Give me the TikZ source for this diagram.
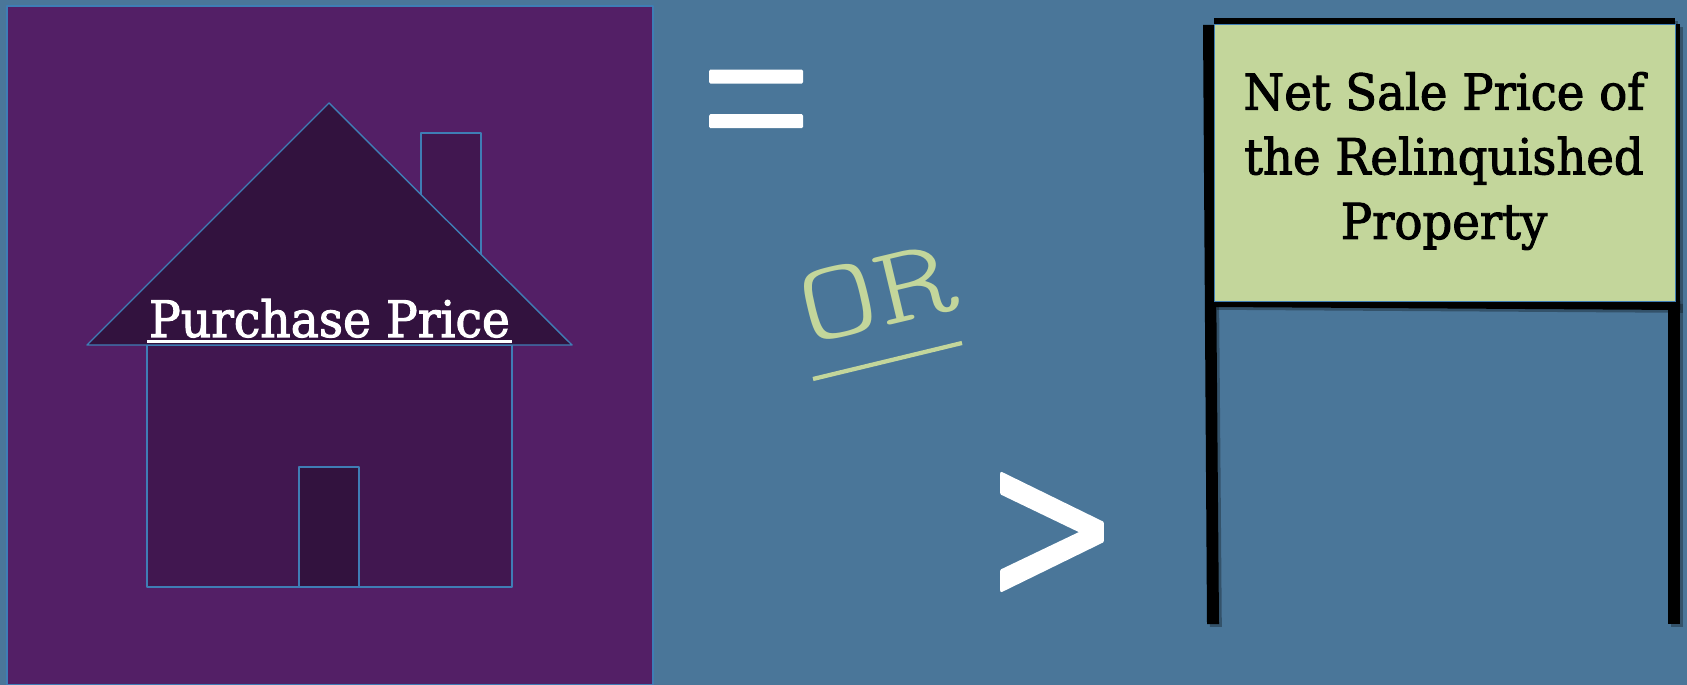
\documentclass[tikz,border=0pt]{standalone}
\usepackage{fontspec}
\setmainfont{DejaVu Serif}[FakeStretch=0.94,FakeBold=2]
\newfontfamily\symbfont{DejaVu Sans}[FakeBold=1.6]
\newfontfamily\equalfont{Liberation Serif}[FakeBold=1.3]
\newfontfamily\orfont{Latin Modern Mono Light}
\usepackage{xcolor}
\usetikzlibrary{shadows}
\definecolor{slideblue}{HTML}{4A7699}
\definecolor{housepurple}{HTML}{531F66}
\definecolor{roofpurple}{HTML}{32123E}
\definecolor{bodypurple}{HTML}{411750}
\definecolor{edgeblue}{HTML}{3F7DB5}
\definecolor{signgreen}{HTML}{C3D69B}

\begin{document}
\begin{tikzpicture}[
  x=0.02cm, y=-0.02cm,
  house/.style={draw=edgeblue, line width=0.8pt, line join=round},
  post/.style={fill=black, drop shadow={shadow xshift=1.6pt, shadow yshift=-1.6pt,
               opacity=0.3, fill=black}},
  pricetext/.style={font=\fontsize{28.6}{29}\selectfont, text=white, inner sep=0pt},
  signtext/.style={font=\fontsize{28.2}{36.8}\selectfont, text=black, align=center,
                   inner sep=0pt},
  sumtext/.style={text=white, inner sep=0pt}
]

\useasboundingbox (0,0) rectangle (1687,685);
\fill[slideblue] (0,0) rectangle (1687,685);

% House
\draw[house, fill=housepurple] (7,6) rectangle (653,685);
\draw[house, fill=bodypurple] (421,195) -- (421,133) -- (481,133) -- (481,254);
\draw[house, fill=bodypurple] (147,345) rectangle (512,587);
\draw[house, fill=roofpurple] (299,467) rectangle (359,587);
\draw[house, fill=roofpurple] (329,103) -- (87,345) -- (572,345) -- cycle;

\node[pricetext, anchor=base] (price) at (329.5,337) {Purchase Price};
\draw[white, line width=1.5pt] (147,341.5) -- (512,341.5);

% Signs between
\node[sumtext, font=\equalfont\fontsize{127}{127}\selectfont, xscale=0.88] (equal) at (756,122)
      {\special{pdf:code 1 j}=};
\node[sumtext, font=\symbfont\fontsize{92}{92}\selectfont, yscale=1.35] (greater) at (1052,537)
      {\special{pdf:code 1 j}>};

\node[font=\orfont\fontsize{64}{64}\selectfont, text=signgreen, rotate=13.4, xscale=1.35, inner sep=0pt]
      (ortext) at (877,293) {OR};
\draw[signgreen, line width=2.4pt] (813,379) -- (962,343);

% Sign posts
\fill[post] (1203,25) -- (1214,25) -- (1219,624) -- (1207,624) -- cycle;
\fill[post] (1668,24) -- (1680,24) -- (1680,624) -- (1668,624) -- cycle;
\fill[post] (1214,18) rectangle (1675,24);
\fill[post] (1214,301) -- (1680,301) -- (1680,310) -- (1214,307) -- cycle;

% Sign board
\node[draw=edgeblue, line width=0.8pt, fill=signgreen, anchor=north west, minimum width=461*0.02cm,
      minimum height=277*0.02cm, inner sep=0pt] (board) at (1214,24) {};
\node[signtext] (boardtext) at (1444,161)
      {Net Sale Price of\\the Relinquished\\Property};

\end{tikzpicture}
\end{document}
